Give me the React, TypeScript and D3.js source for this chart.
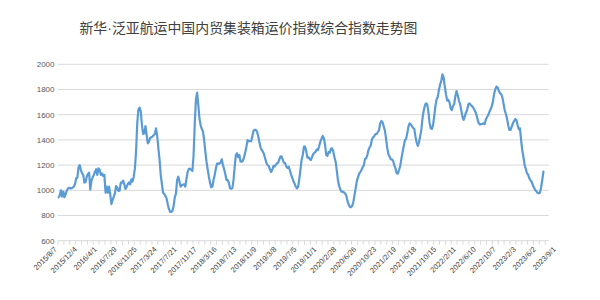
import * as d3 from 'd3';
import React from 'react';

// weekly composite index, 2015/8/7 .. 2023/9/1
const values = [
  945, 960, 1000, 950, 990, 945, 970, 997, 1015, 1020,
  1016, 1016, 1021, 1029, 1050, 1095, 1100, 1183, 1200, 1161,
  1135, 1122, 1061, 1066, 1108, 1130, 1140, 1005, 1077, 1103,
  1122, 1148, 1167, 1122, 1174, 1161, 1122, 1135, 1114, 1122,
  981, 1029, 981, 1029, 968, 891, 923, 950, 976, 1034,
  1021, 995, 997, 1061, 1061, 1077, 1047, 1010, 1029, 1050,
  1063, 1047, 1087, 1069, 1108, 1174, 1307, 1532, 1643, 1656,
  1624, 1518, 1447, 1452, 1510, 1439, 1373, 1386, 1415, 1421,
  1426, 1436, 1447, 1492, 1431, 1333, 1246, 1122, 1050, 981,
  971, 955, 936, 889, 852, 828, 828, 838, 876, 944,
  976, 1082, 1108, 1069, 1029, 1040, 1045, 1047, 1029, 1095,
  1148, 1170, 1172, 1161, 1153, 1280, 1532, 1722, 1775, 1677,
  1571, 1516, 1487, 1466, 1399, 1307, 1227, 1167, 1108, 1061,
  1024, 1029, 1082, 1122, 1174, 1212, 1209, 1214, 1219, 1246,
  1201, 1167, 1130, 1082, 1082, 1061, 1016, 1013, 1016, 1082,
  1183, 1280, 1294, 1262, 1280, 1227, 1227, 1235, 1262, 1302,
  1346, 1399, 1389, 1391, 1389, 1426, 1471, 1479, 1479, 1466,
  1431, 1386, 1341, 1320, 1307, 1286, 1251, 1219, 1201, 1193,
  1167, 1145, 1161, 1193, 1188, 1201, 1214, 1219, 1246, 1270,
  1267, 1241, 1219, 1214, 1188, 1177, 1188, 1159, 1127, 1100,
  1074, 1053, 1029, 1016, 1024, 1087, 1161, 1241, 1280, 1346,
  1346, 1307, 1259, 1262, 1246, 1241, 1267, 1288, 1299, 1307,
  1325, 1320, 1352, 1386, 1410, 1431, 1413, 1360, 1280, 1272,
  1304, 1299, 1330, 1333, 1307, 1262, 1227, 1156, 1077, 1034,
  1008, 989, 989, 984, 976, 960, 918, 889, 870, 865,
  876, 902, 958, 1011, 1071, 1103, 1130, 1145, 1161, 1183,
  1198, 1249, 1254, 1280, 1320, 1341, 1360, 1405, 1421, 1431,
  1447, 1447, 1463, 1479, 1532, 1550, 1540, 1505, 1473, 1405,
  1333, 1286, 1267, 1246, 1246, 1233, 1198, 1174, 1135, 1132,
  1161, 1193, 1249, 1301, 1349, 1397, 1407, 1450, 1505, 1532,
  1524, 1508, 1497, 1487, 1426, 1381, 1352, 1381, 1428, 1481,
  1571, 1630, 1672, 1690, 1682, 1624, 1537, 1492, 1487, 1518,
  1590, 1669, 1722, 1741, 1799, 1839, 1868, 1921, 1894, 1823,
  1762, 1712, 1717, 1698, 1651, 1637, 1669, 1685, 1749, 1788,
  1754, 1712, 1685, 1637, 1585, 1558, 1585, 1616, 1637, 1682,
  1690, 1677, 1669, 1659, 1643, 1624, 1598, 1558, 1532, 1521,
  1526, 1526, 1532, 1526, 1563, 1582, 1598, 1622, 1643, 1669,
  1704, 1765, 1802, 1823, 1817, 1788, 1770, 1765, 1738, 1690,
  1637, 1606, 1571, 1516, 1479, 1479, 1505, 1532, 1550, 1566,
  1558, 1518, 1484, 1492, 1399, 1315, 1262, 1201, 1169, 1135,
  1124, 1095, 1077, 1069, 1040, 1021, 1003, 992, 981, 976,
  981, 1021, 1082, 1148,
];

const tickLabels = [
  '2015/8/7', '2015/12/4', '2016/4/1', '2016/7/29', '2016/11/25', '2017/3/24',
  '2017/7/21', '2017/11/17', '2018/3/16', '2018/7/13', '2018/11/9', '2019/3/8',
  '2019/7/5', '2019/11/1', '2020/2/28', '2020/6/26', '2020/10/23', '2021/2/19',
  '2021/6/18', '2021/10/15', '2022/2/11', '2022/6/10', '2022/10/7', '2023/2/3',
  '2023/6/2', '2023/9/1',
];

const yTicks = [600, 800, 1000, 1200, 1400, 1600, 1800, 2000];

const titleA = '新华';
const titleDot = '·';
const titleB = '泛亚航运中国内贸集装箱运价指数综合指数走势图';

const W = 600;
const H = 300;
const nCats = values.length + 4;
const labelEvery = 17;
const tickEvery = 5;

export default function App() {
  const x = d3.scaleBand<number>()
    .domain(d3.range(nCats))
    .range([58, 548.7])
    .paddingInner(0);

  const y = d3.scaleLinear()
    .domain([600, 2000])
    .range([240.7, 64.3]);

  const line = d3.line<number>()
    .x((d, i) => x(i)! + x.bandwidth() / 2)
    .y(d => y(d))
    .curve(d3.curveLinear);

  const step = x.step();
  const x0 = x(0)! + step / 2;

  const axisTicks = d3.range(0, nCats + 1, tickEvery);

  return (
    <svg width={W} height={H} style={{ position: 'absolute', left: 0, top: 0 }}
      fontFamily="'Liberation Sans', Arial, sans-serif">
      <rect width={W} height={H} fill="#fff" />
      <text x={248.5} y={32.5} textAnchor="middle" fontSize={13.9} fill="#404040"
        fontFamily="'Noto Sans CJK SC', sans-serif">
        {titleA}
        <tspan fontFamily="'Liberation Sans', sans-serif">{titleDot}</tspan>
        {titleB}
      </text>

      {yTicks.map(t => (
        <g key={t}>
          <line x1={58} x2={548.7} y1={y(t)} y2={y(t)} stroke="#d9d9d9" strokeWidth={1} />
          <text x={54.5} y={y(t)} dy="0.35em" textAnchor="end" fontSize={8} fill="#595959">{t}</text>
        </g>
      ))}

      {axisTicks.map(k => {
        const tx = Math.min(58 + k * step, 548.7);
        return <line key={k} x1={tx} x2={tx} y1={y(600)} y2={y(600) + 4} stroke="#d9d9d9" strokeWidth={1} />;
      })}

      <path d={line(values) ?? ''} fill="none" stroke="#5b9bd5" strokeWidth={2.2}
        strokeLinejoin="round" strokeLinecap="round" />

      {tickLabels.map((lab, k) => {
        const px = x0 + k * labelEvery * step - 3;
        const py = 248;
        return (
          <text key={lab} x={px} y={py} textAnchor="end" fontSize={7.5} fill="#404040"
            transform={`rotate(-45 ${px} ${py})`} dy="0.35em">{lab}</text>
        );
      })}
    </svg>
  );
}
